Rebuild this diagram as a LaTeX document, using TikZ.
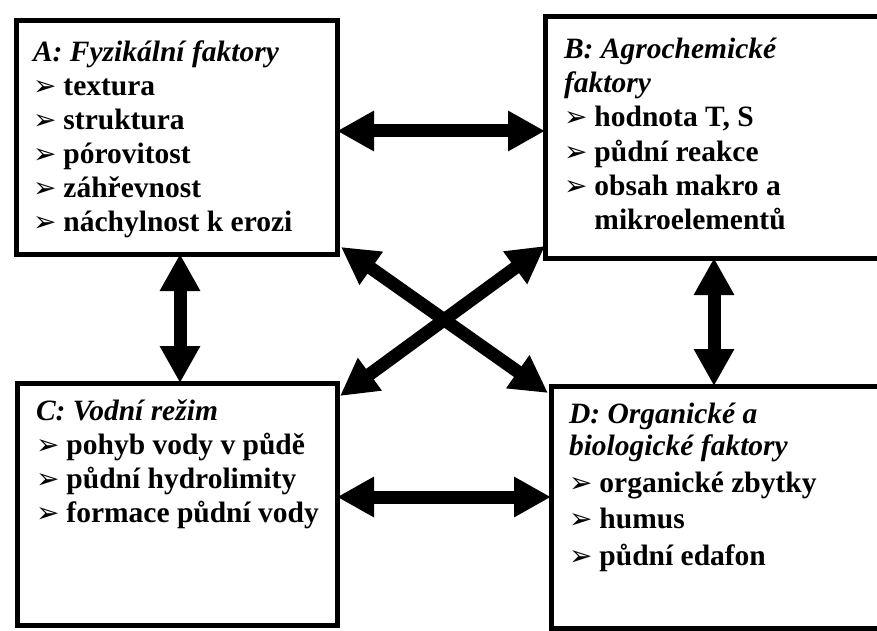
\documentclass[tikz,border=0pt]{standalone}
\usepackage{fontspec}
\setmainfont{Liberation Serif}
\newfontfamily\dejavu{DejaVu Sans}
\usetikzlibrary{arrows.meta}
\newcommand\mybul{{\dejavu\fontsize{28}{28}\selectfont ➢}\hspace{7pt}}
\newcommand\myttl[1]{\rule{0pt}{24pt}\textit{#1}}
\begin{document}
\begin{tikzpicture}[x=1pt,y=-1pt,
  box/.style={draw, line width=5pt, inner sep=0pt, outer sep=0pt, anchor=north west, fill=white},
  txt/.style={anchor=north west, inner sep=0pt, outer sep=0pt, align=left,
    font=\bfseries\fontsize{29.5}{34}\selectfont},
  biarr/.style={line width=13pt, {Triangle[length=37pt,width=38pt]}-{Triangle[length=37pt,width=38pt]}}]
\useasboundingbox (0,0) rectangle (877,631);
\fill[white] (0,0) rectangle (877,631);

\node[box, minimum width=321pt, minimum height=233pt] (A) at (16,21) {};
\node[box, minimum width=340pt, minimum height=241pt] (B) at (545,17) {};
\node[box, minimum width=320pt, minimum height=242pt] (C) at (17,383) {};
\node[box, minimum width=334pt, minimum height=242pt] (D) at (551,386) {};

\node[txt] (At) at (33,37) {\myttl{A: Fyzikální faktory}\\
\mybul textura\\
\mybul struktura\\
\mybul pórovitost\\
\mybul záhřevnost\\
\mybul náchylnost k erozi};

\node[txt] (Bt) at (564,35) {\myttl{B: Agrochemické}\\
\textit{faktory}\\
\mybul hodnota T, S\\
\mybul půdní reakce\\
\mybul obsah makro a\\
\hphantom{\mybul}mikroelementů};

\node[txt] (Ct) at (36,396) {\myttl{C: Vodní režim}\\
\mybul pohyb vody v půdě\\
\mybul půdní hydrolimity\\
\mybul formace půdní vody};

\node[txt, font=\bfseries\fontsize{29.5}{36.5}\selectfont] (Dt) at (569,399) {\myttl{D: Organické a}\\[-4pt]
\textit{biologické faktory}\\
\mybul organické zbytky\\
\mybul humus\\
\mybul půdní edafon};

\draw[biarr] ([yshift=6.5pt]A.east) -- ([yshift=6.5pt]B.west);
\draw[biarr] ([yshift=7pt]C.east) -- ([yshift=10pt]D.west);
\draw[biarr] ([xshift=3.5pt]A.south) -- ([xshift=3pt]C.north);
\draw[biarr] ([xshift=-1pt]B.south) -- ([xshift=-4pt]D.north);
\draw[biarr] ([xshift=4pt,yshift=7pt]A.south east) -- ([xshift=-3pt,yshift=-7pt]D.north west);
\draw[biarr] ([yshift=12pt]B.south west) -- ([xshift=3pt,yshift=-13pt]C.north east);
\end{tikzpicture}
\end{document}
